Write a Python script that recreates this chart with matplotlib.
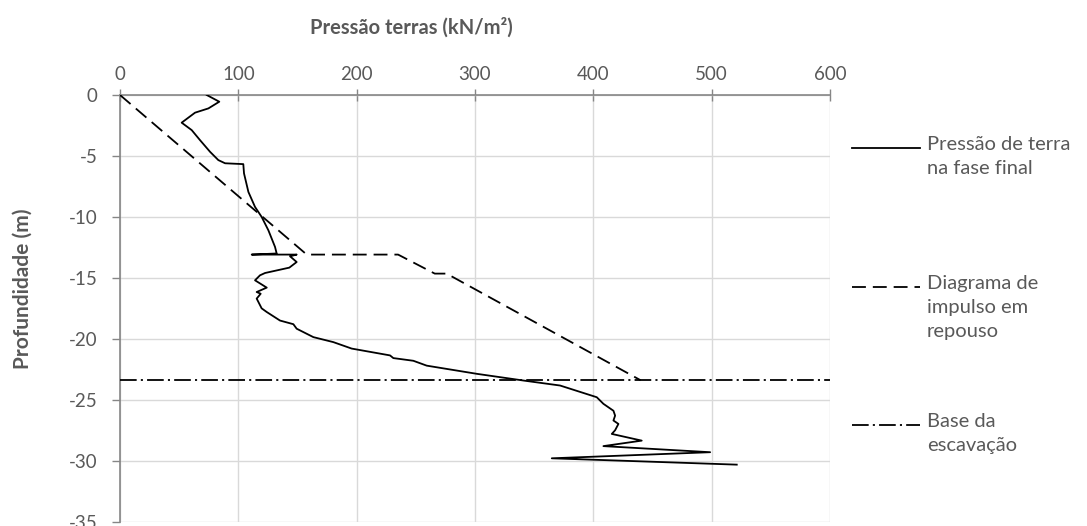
import matplotlib
matplotlib.use("Agg")
import matplotlib.pyplot as plt
from matplotlib.lines import Line2D

plt.rcParams['font.family'] = ['Lato', 'DejaVu Sans']
plt.rcParams['axes.unicode_minus'] = False
plt.rcParams['lines.scale_dashes'] = False

# ---- data ----
pressao_x = [73.3, 83.9, 74.7, 63.4, 52.1, 60.6, 67.6, 76.1, 83.1, 88.8, 104.2, 104.8,
             108.5, 114.1, 119.7, 125.4, 131.0, 132.4, 111.3, 149.3, 143.7, 149.3, 143.1,
             122.6, 118.3, 114.1, 124.0, 115.5, 118.9, 115.5, 119.7, 124.0, 135.2, 146.5,
             149.3, 163.4, 180.3, 195.8, 228.2, 231.0, 247.9, 259.2, 301.5, 340.9, 371.9,
             402.9, 408.5, 417.0, 418.4, 417.0, 421.2, 418.4, 415.6, 440.9, 408.5, 498.7,
             364.9, 521.2]
pressao_y = [0, -0.55, -1.1, -1.45, -2.27, -2.88, -3.7, -4.66, -5.34, -5.6, -5.67, -6.43,
             -7.95, -9.18, -10.0, -11.1, -12.46, -13.0, -13.09, -13.09, -13.23, -13.7, -14.16,
             -14.6, -14.79, -15.2, -15.8, -16.16, -16.3, -16.7, -17.5, -17.8, -18.5, -18.8,
             -19.17, -19.86, -20.27, -20.8, -21.36, -21.58, -21.8, -22.2, -22.87, -23.42, -23.83,
             -24.79, -25.33, -25.9, -26.3, -26.7, -26.98, -27.5, -27.8, -28.35, -28.8, -29.3,
             -29.8, -30.32]
repouso_x = [0, 157.8, 235, 266, 276, 440]
repouso_y = [0, -13.09, -13.09, -14.65, -14.65, -23.4]
base_x = [0, 600]
base_y = [-23.4, -23.4]

x_ticks = [0, 100, 200, 300, 400, 500, 600]
y_ticks = [0, -5, -10, -15, -20, -25, -30, -35]
labels = ["Pressão de terra\nna fase final",
          "Diagrama de\nimpulso em\nrepouso",
          "Base da\nescavação"]

# ---- style ----
TXT = '#595959'
AX = '#868686'
GRID = '#D9D9D9'
LW = 1.3
styles = [dict(color='black', lw=LW, linestyle='-'),
          dict(color='black', lw=LW, dashes=(10, 5)),
          dict(color='black', lw=LW, dashes=(12, 3, 1.5, 3))]

W, H = 1087, 526
fig = plt.figure(figsize=(W / 100, H / 100), dpi=100)
ax = fig.add_axes([120 / W, 1 - 521.7 / H, 710 / W, 426.7 / H])

series = [(pressao_x, pressao_y), (repouso_x, repouso_y), (base_x, base_y)]
for (xs, ys), st in zip(series, styles):
    ax.plot(xs, ys, **st, zorder=3)

ax.set_xlim(0, 600)
ax.set_ylim(-35, 0)
ax.set_xticks(x_ticks)
ax.set_yticks(y_ticks)
ax.set_xticklabels([str(v) for v in x_ticks])
ax.set_yticklabels([str(v) for v in y_ticks])
ax.xaxis.tick_top()
ax.grid(True, color=GRID, lw=1.0, zorder=0)
ax.set_axisbelow(True)
for s in ['right', 'bottom']:
    ax.spines[s].set_visible(False)
for s in ['top', 'left']:
    ax.spines[s].set_color(AX)
    ax.spines[s].set_linewidth(1.2)
ax.tick_params(axis='x', direction='inout', length=8, width=1.0, color=AX,
               labelsize=13.5, labelcolor=TXT, pad=5)
ax.tick_params(axis='y', direction='out', length=6, width=1.0, color=AX,
               labelsize=13.5, labelcolor=TXT, pad=10)

fig.text(411 / W, 1 - 28 / H, "Pressão terras (kN/m²)", ha='center', va='center',
         fontsize=14.5, fontweight='bold', color=TXT)
fig.text(23 / W, 1 - 289 / H, "Profundidade (m)", ha='center', va='center',
         rotation=90, fontsize=15, fontweight='bold', color=TXT)

# legend (manual, handles aligned with first text line as in the original)
entry_y = [148, 287, 425]
for lab, st, yy in zip(labels, styles, entry_y):
    fig.add_artist(Line2D([852 / W, 920 / W], [1 - yy / H, 1 - yy / H],
                          transform=fig.transFigure, **st))
    fig.text(927 / W, 1 - (yy - 12) / H, lab, ha='left', va='top', fontsize=14.5,
             color=TXT, linespacing=1.5)

fig.savefig("out.png", dpi=100)
